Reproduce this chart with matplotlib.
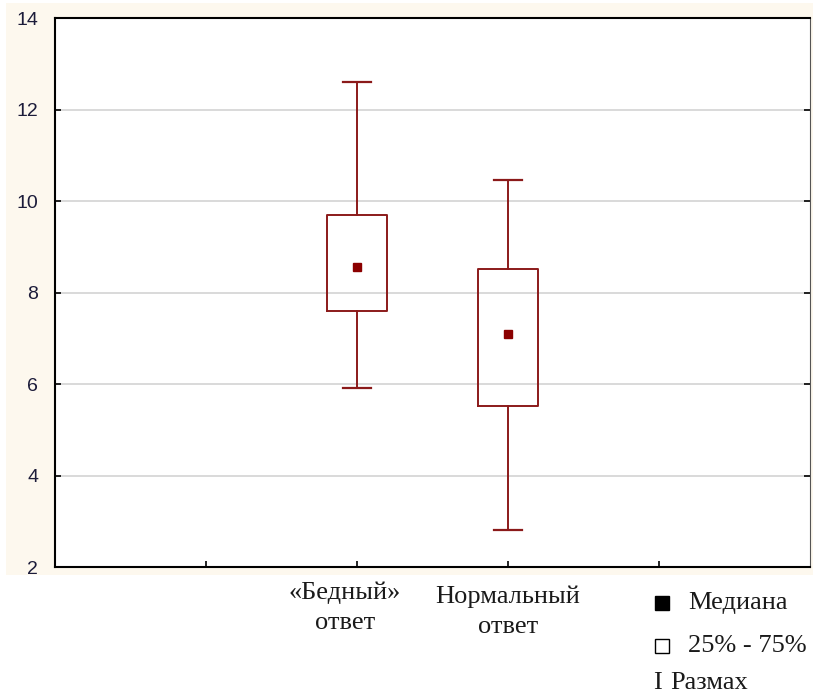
import matplotlib.pyplot as plt
from matplotlib.patches import Rectangle
from matplotlib.lines import Line2D
from matplotlib.transforms import blended_transform_factory

# Summary statistics per response group
groups = ["«Бедный»\nответ", "Нормальный\nответ"]
positions = [2, 3]
medians = [8.56, 7.09]
q1 = [7.60, 5.52]
q3 = [9.69, 8.51]
mins = [5.91, 2.81]
maxs = [12.60, 10.46]

yticks = [2, 4, 6, 8, 10, 12, 14]
legend_labels = ["Медиана", "25% - 75%", "Размах"]

box_color = "#8b1a1a"
serif = ["Liberation Serif", "DejaVu Serif"]

fig = plt.figure(figsize=(8.14, 7.0), dpi=100)

# cream panel behind the plotting area
fig.patches.append(Rectangle((6 / 814, 1 - 575 / 700), 807 / 814, 572 / 700,
                             transform=fig.transFigure, facecolor="#fdf8ee",
                             edgecolor="none", zorder=-5))

ax = fig.add_axes([55 / 814, 1 - 567 / 700, 755 / 814, 549 / 700])
ax.set_facecolor("white")

stats = []
for i in range(len(groups)):
    stats.append(dict(med=medians[i], q1=q1[i], q3=q3[i],
                      whislo=mins[i], whishi=maxs[i], fliers=[]))

ax.bxp(stats, positions=positions, widths=0.4, capwidths=0.19,
       showfliers=False, manage_ticks=False,
       boxprops=dict(color=box_color, linewidth=1.4),
       whiskerprops=dict(color=box_color, linewidth=1.4),
       capprops=dict(color=box_color, linewidth=1.6),
       medianprops=dict(linestyle="none"))
ax.plot(positions, medians, linestyle="none", marker="s", markersize=6,
        color="#8b0000", zorder=4)

ax.set_xlim(0, 5)
ax.set_ylim(2, 14)
ax.set_yticks(yticks)
ax.set_yticklabels([str(t) for t in yticks], family="Liberation Sans",
                   fontsize=14, color="#1c1c3a")
ax.set_xticks([1, 2, 3, 4])
ax.set_xticklabels([])
ax.yaxis.grid(True, color="#d9d9d9", linewidth=1.4)
ax.set_axisbelow(True)
ax.tick_params(axis="both", direction="in", length=4, width=1.2,
               top=False, right=True, pad=12)

for side in ["left", "bottom", "top"]:
    ax.spines[side].set_linewidth(1.5)
    ax.spines[side].set_color("black")
ax.spines["right"].set_color("#555555")

# category labels under the axis (x in data units, y in figure units)
label_trans = blended_transform_factory(ax.transData, fig.transFigure)
for pos, name, dx, top in zip(positions, groups, [-0.08, 0.0], [582, 586]):
    fig.text(pos + dx, 1 - top / 700, name, transform=label_trans,
             ha="center", va="top", family=serif, fontsize=19,
             linespacing=1.42, color="#1a1a1a")

# legend in the lower right corner
fig.add_artist(Line2D([662 / 814], [1 - 603 / 700], marker="s", markersize=10.5,
                      color="black", linestyle="none"))
fig.add_artist(Line2D([662 / 814], [1 - 646 / 700], marker="s", markersize=9.5,
                      markerfacecolor="white", markeredgecolor="black",
                      markeredgewidth=1.0, linestyle="none"))
fig.text(653 / 814, 1 - 683 / 700, "I", family=serif, fontsize=19,
         va="center", ha="left", color="#1a1a1a")
for y, label, x in zip([603, 646, 683], legend_labels, [688, 688, 670]):
    fig.text(x / 814, 1 - y / 700, label, family=serif, fontsize=19,
             va="center", ha="left", color="#1a1a1a")

fig.savefig("out.png", dpi=100, facecolor="white")
